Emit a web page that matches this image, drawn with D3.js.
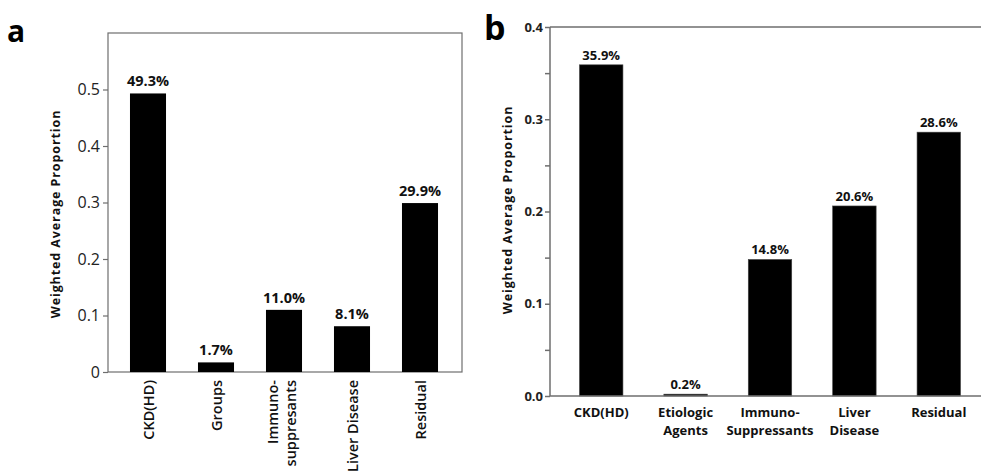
<!DOCTYPE html>
<html>
<head>
<meta charset="utf-8">
<script src="https://cdn.jsdelivr.net/npm/d3@7"></script>
<style>
  html, body { margin: 0; padding: 0; background: #fff; }
  svg { display: block; font-family: "Open Sans", sans-serif; }
</style>
</head>
<body>
<svg id="chart" width="981" height="474"></svg>
<script>
// Panel a
const categoriesA = [["CKD(HD)"], ["Groups"], ["Immuno-", "suppresants"], ["Liver Disease"], ["Residual"]];
const valuesA = [0.493, 0.017, 0.110, 0.081, 0.299];
const valueLabelsA = ["49.3%", "1.7%", "11.0%", "8.1%", "29.9%"];
const tickValuesA = [0, 0.1, 0.2, 0.3, 0.4, 0.5];
const tickLabelsA = ["0", "0.1", "0.2", "0.3", "0.4", "0.5"];

// Panel b
const categoriesB = [["CKD(HD)"], ["Etiologic", "Agents"], ["Immuno-", "Suppressants"], ["Liver", "Disease"], ["Residual"]];
const valuesB = [0.359, 0.002, 0.148, 0.206, 0.286];
const valueLabelsB = ["35.9%", "0.2%", "14.8%", "20.6%", "28.6%"];
const tickValuesB = [0, 0.1, 0.2, 0.3, 0.4];
const tickLabelsB = ["0.0", "0.1", "0.2", "0.3", "0.4"];
const minorTicksB = [0.05, 0.15, 0.25, 0.35];

const yTitle = "Weighted Average Proportion";

const svg = d3.select("#chart");
const axisColor = "#6e6e6e";

// ---------- Panel a ----------
{
  const left = 108, right = 462, top = 33, bottom = 372;
  const ids = d3.range(categoriesA.length);
  const x = d3.scaleBand().domain(ids).range([114, 454]).paddingInner(0.47).paddingOuter(0.235);
  const y = d3.scaleLinear().domain([0, 0.6]).range([bottom, top]);
  const g = svg.append("g");

  // frame
  g.append("rect").attr("x", left).attr("y", top).attr("width", right - left).attr("height", bottom - top)
    .attr("fill", "none").attr("stroke", axisColor).attr("stroke-width", 1.2);

  // bars
  g.selectAll("rect.bar").data(ids).join("rect").attr("class", "bar")
    .attr("x", i => x(i)).attr("width", x.bandwidth())
    .attr("y", i => y(valuesA[i])).attr("height", i => y(0) - y(valuesA[i]))
    .attr("fill", "#000");

  // value labels
  g.selectAll("text.val").data(ids).join("text").attr("class", "val")
    .attr("x", i => x(i) + x.bandwidth() / 2).attr("y", i => y(valuesA[i]) - 7)
    .attr("text-anchor", "middle").attr("font-size", 14.5).attr("font-weight", 700).attr("fill", "#111")
    .text(i => valueLabelsA[i]);

  // y axis
  const yAxis = d3.axisLeft(y).tickValues(tickValuesA).tickFormat((d, i) => tickLabelsA[i]).tickSize(5).tickPadding(3);
  const ya = g.append("g").attr("transform", `translate(${left},0)`).call(yAxis);
  ya.select(".domain").remove();
  ya.selectAll("line").attr("stroke", axisColor).attr("stroke-width", 1.2);
  ya.selectAll("text").attr("font-size", 16).attr("fill", "#222").attr("font-family", "'Open Sans', sans-serif");

  // x labels (rotated)
  const xl = g.selectAll("g.xl").data(ids).join("g").attr("class", "xl")
    .attr("transform", i => `translate(${x(i) + x.bandwidth() / 2},380) rotate(-90)`);
  xl.each(function (i) {
    const lines = categoriesA[i];
    const n = lines.length;
    const t = d3.select(this).append("text")
      .attr("text-anchor", "end").attr("font-size", 14.5).attr("font-weight", 600).attr("fill", "#111");
    lines.forEach((s, k) => {
      t.append("tspan").attr("x", 0).attr("y", 5.5 + (k - (n - 1) / 2) * 18 + (n > 1 ? -3 : 0)).text(s);
    });
  });

  // y title
  g.append("text").attr("transform", "translate(60,214) rotate(-90)")
    .attr("text-anchor", "middle").attr("font-size", 12.5).attr("font-weight", 700).attr("fill", "#111")
    .attr("letter-spacing", 0.9)
    .text(yTitle);

  // panel letter
  g.append("text").attr("x", 7).attr("y", 42).attr("font-size", 30).attr("font-weight", 700)
    .attr("fill", "#000").text("a");
}

// ---------- Panel b ----------
{
  const left = 550, right = 981, top = 27, bottom = 396;
  const ids = d3.range(categoriesB.length);
  const x = d3.scaleBand().domain(ids).range([559, 981]).paddingInner(0.485).paddingOuter(0.2425);
  const y = d3.scaleLinear().domain([0, 0.4]).range([bottom, top]);
  const g = svg.append("g");

  // axes lines
  g.append("line").attr("x1", left).attr("x2", right).attr("y1", top).attr("y2", top)
    .attr("stroke", axisColor).attr("stroke-width", 1.5);

  // bars
  g.selectAll("rect.bar").data(ids).join("rect").attr("class", "bar")
    .attr("x", i => x(i)).attr("width", x.bandwidth())
    .attr("y", i => y(valuesB[i])).attr("height", i => y(0) - y(valuesB[i]))
    .attr("fill", "#000").attr("stroke", "#444").attr("stroke-width", 0.6);

  g.append("line").attr("x1", left).attr("x2", right).attr("y1", bottom).attr("y2", bottom)
    .attr("stroke", axisColor).attr("stroke-width", 1.5);
  g.append("line").attr("x1", left).attr("x2", left).attr("y1", top).attr("y2", bottom)
    .attr("stroke", axisColor).attr("stroke-width", 1.5);

  // value labels
  g.selectAll("text.val").data(ids).join("text").attr("class", "val")
    .attr("x", i => x(i) + x.bandwidth() / 2).attr("y", i => y(valuesB[i]) - 5)
    .attr("text-anchor", "middle").attr("font-size", 13).attr("font-weight", 700).attr("fill", "#111")
    .text(i => valueLabelsB[i]);

  // y axis major + minor ticks
  const yAxis = d3.axisLeft(y).tickValues(tickValuesB).tickFormat((d, i) => tickLabelsB[i]).tickSize(5).tickPadding(2);
  const ya = g.append("g").attr("transform", `translate(${left},0)`).call(yAxis);
  ya.select(".domain").remove();
  ya.selectAll("line").attr("stroke", axisColor).attr("stroke-width", 1.5);
  ya.selectAll("text").attr("font-size", 13).attr("font-weight", 700).attr("fill", "#222")
    .attr("font-family", "'Open Sans', sans-serif");
  const ym = g.append("g").attr("transform", `translate(${left},0)`)
    .call(d3.axisLeft(y).tickValues(minorTicksB).tickFormat("").tickSize(5));
  ym.select(".domain").remove();
  ym.selectAll("line").attr("stroke", axisColor).attr("stroke-width", 1.5);

  // x labels
  const xl = g.selectAll("text.xl").data(ids).join("text").attr("class", "xl")
    .attr("text-anchor", "middle").attr("font-size", 13).attr("font-weight", 700).attr("fill", "#111");
  xl.each(function (i) {
    const t = d3.select(this);
    categoriesB[i].forEach((s, k) => {
      t.append("tspan").attr("x", x(i) + x.bandwidth() / 2).attr("y", 417 + k * 18).text(s);
    });
  });

  // y title
  g.append("text").attr("transform", "translate(512,210) rotate(-90)")
    .attr("text-anchor", "middle").attr("font-size", 12.5).attr("font-weight", 700).attr("fill", "#111")
    .attr("letter-spacing", 0.9)
    .text(yTitle);

  // panel letter
  g.append("text").attr("x", 484).attr("y", 40).attr("font-size", 34).attr("font-weight", 700)
    .attr("fill", "#000").text("b");
}
</script>
</body>
</html>
